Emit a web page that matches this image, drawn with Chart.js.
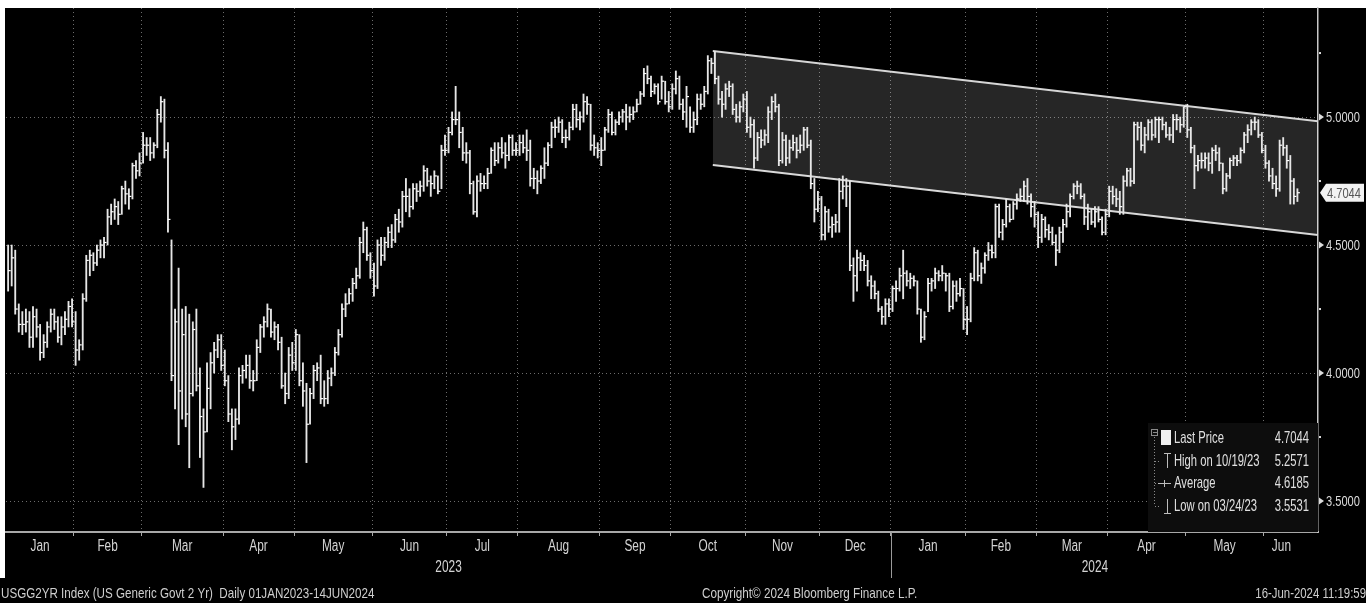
<!DOCTYPE html>
<html>
<head>
<meta charset="utf-8">
<script src="https://cdn.jsdelivr.net/npm/chart.js@4.4.1/dist/chart.umd.min.js"></script>
<style>
  html, body { margin: 0; padding: 0; background: #000; }
  #wrap { width: 1366px; height: 603px; }
</style>
</head>
<body>
<div id="wrap"><canvas id="chart" width="1366" height="603"></canvas></div>
<script>
// months on the axis and how many trading days each one holds
const monthNames = ["Jan", "Feb", "Mar", "Apr", "May", "Jun", "Jul", "Aug", "Sep", "Oct", "Nov", "Dec",
                    "Jan", "Feb", "Mar", "Apr", "May", "Jun"];
const monthDays = [19, 19, 23, 20, 22, 21, 20, 23, 20, 21, 21, 20, 21, 20, 20, 22, 22, 10];
const yearNames = ["2023", "2024"];
const yearMonths = [12, 6];

// daily bars, one line per month
const highs = [
  4.50,4.50,4.48,4.27,4.24,4.25,4.24,4.26,4.25,4.19,4.15,4.20,4.25,4.25,4.22,4.22,4.24,4.28,4.29,
  4.24,4.13,4.31,4.46,4.48,4.47,4.50,4.52,4.53,4.64,4.66,4.68,4.67,4.73,4.75,4.72,4.82,4.83,4.86,
  4.94,4.92,4.92,4.90,5.03,5.08,5.07,4.90,4.52,4.25,4.41,4.25,4.26,4.23,4.20,4.25,4.02,3.86,4.04,4.08,4.12,4.15,4.15,
  4.09,3.99,3.86,3.86,4.02,4.03,4.07,4.07,4.01,4.13,4.19,4.22,4.27,4.25,4.20,4.19,4.14,4.00,4.10,4.12,
  4.17,4.15,4.04,3.96,3.94,4.03,4.04,4.07,3.97,4.01,4.02,4.10,4.17,4.27,4.31,4.33,4.37,4.41,4.53,4.59,4.57,4.47,
  4.43,4.52,4.53,4.53,4.57,4.58,4.62,4.64,4.71,4.76,4.72,4.74,4.74,4.75,4.81,4.80,4.77,4.79,4.77,4.89,4.93,
  4.96,5.02,5.12,5.02,4.96,4.90,4.87,4.75,4.77,4.78,4.77,4.80,4.88,4.90,4.90,4.92,4.90,4.93,4.93,4.90,
  4.93,4.93,4.95,4.91,4.80,4.79,4.81,4.88,4.90,4.98,4.99,5.00,4.99,4.95,4.98,5.05,5.05,5.02,5.09,5.08,5.05,4.93,4.90,
  4.92,4.96,5.03,5.02,4.99,5.02,5.03,5.05,5.04,5.04,5.07,5.10,5.19,5.20,5.16,5.13,5.13,5.16,5.14,5.10,
  5.13,5.18,5.16,5.07,5.12,5.04,5.02,5.09,5.09,5.12,5.24,5.23,5.2571,5.16,5.10,5.13,5.14,5.13,5.05,5.06,5.09,
  5.10,5.00,4.99,4.94,4.95,4.95,5.04,5.08,5.09,5.05,4.94,4.93,4.91,4.93,4.92,4.93,4.96,4.96,4.91,4.76,4.71,
  4.69,4.65,4.64,4.61,4.62,4.76,4.77,4.76,4.75,4.45,4.48,4.47,4.46,4.44,4.38,4.36,4.32,4.26,4.29,4.29,
  4.34,4.36,4.41,4.48,4.40,4.39,4.38,4.36,4.25,4.24,4.37,4.37,4.41,4.40,4.42,4.39,4.39,4.36,4.36,4.37,4.33,
  4.26,4.39,4.49,4.48,4.43,4.47,4.51,4.50,4.66,4.66,4.60,4.68,4.66,4.67,4.70,4.72,4.75,4.76,4.70,4.67,
  4.63,4.62,4.61,4.58,4.57,4.54,4.57,4.60,4.66,4.70,4.74,4.75,4.74,4.70,4.66,4.64,4.65,4.65,4.61,4.64,
  4.73,4.73,4.72,4.71,4.77,4.80,4.80,4.98,4.98,4.98,4.96,4.99,4.99,5.00,5.00,5.00,4.98,4.96,5.01,5.01,5.00,5.04,
  5.05,4.96,4.89,4.85,4.86,4.86,4.86,4.88,4.89,4.88,4.82,4.78,4.84,4.85,4.85,4.88,4.94,4.97,4.99,5.00,4.99,4.94,
  4.89,4.83,4.80,4.77,4.91,4.92,4.89,4.85,4.76,4.72
];
const lows = [
  4.32,4.34,4.23,4.16,4.15,4.16,4.10,4.10,4.14,4.05,4.06,4.10,4.16,4.17,4.12,4.11,4.15,4.18,4.18,
  4.03,4.05,4.09,4.28,4.38,4.40,4.42,4.45,4.45,4.50,4.58,4.60,4.58,4.62,4.66,4.64,4.68,4.76,4.77,
  4.82,4.85,4.83,4.84,4.88,4.98,4.84,4.55,3.97,3.86,3.72,3.82,3.79,3.63,3.91,3.93,3.67,3.5531,3.77,3.86,4.00,4.06,4.01,
  3.95,3.81,3.70,3.74,3.80,3.96,3.98,3.94,3.93,3.97,4.08,4.14,4.18,4.14,4.13,4.09,3.94,3.88,3.90,4.01,
  4.01,3.95,3.87,3.65,3.80,3.90,3.97,3.88,3.87,3.88,3.95,3.99,4.07,4.14,4.22,4.27,4.28,4.33,4.37,4.47,4.44,4.37,
  4.30,4.33,4.42,4.44,4.49,4.49,4.51,4.55,4.57,4.63,4.61,4.64,4.67,4.69,4.71,4.73,4.69,4.72,4.70,4.72,4.85,
  4.86,4.93,4.97,4.88,4.83,4.82,4.70,4.62,4.61,4.71,4.72,4.72,4.78,4.81,4.82,4.84,4.80,4.83,4.85,4.85,
  4.85,4.86,4.83,4.73,4.72,4.70,4.74,4.76,4.81,4.88,4.92,4.94,4.90,4.88,4.91,4.95,4.96,4.95,4.98,5.01,4.87,4.85,4.84,
  4.81,4.87,4.94,4.93,4.93,4.97,4.98,4.95,4.98,4.99,5.02,5.05,5.08,5.13,5.08,5.09,5.05,5.07,5.05,5.02,
  5.03,5.09,5.03,4.99,4.96,4.94,4.94,4.97,5.03,5.04,5.09,5.17,5.13,5.05,5.00,5.03,5.08,5.01,4.98,4.98,5.02,
  4.94,4.92,4.80,4.83,4.88,4.89,4.90,4.99,5.02,4.81,4.82,4.81,4.82,4.87,4.84,4.86,4.87,4.88,4.72,4.59,4.63,
  4.52,4.52,4.55,4.53,4.55,4.55,4.68,4.65,4.40,4.28,4.32,4.40,4.40,4.34,4.29,4.29,4.24,4.19,4.19,4.22,
  4.24,4.28,4.32,4.29,4.34,4.33,4.34,4.23,4.12,4.13,4.24,4.32,4.33,4.36,4.36,4.32,4.24,4.25,4.28,4.30,4.17,
  4.15,4.20,4.36,4.36,4.35,4.39,4.44,4.45,4.45,4.53,4.52,4.57,4.59,4.60,4.64,4.67,4.67,4.66,4.61,4.57,
  4.49,4.51,4.53,4.52,4.50,4.42,4.47,4.51,4.57,4.61,4.68,4.70,4.68,4.58,4.56,4.58,4.57,4.59,4.54,4.54,
  4.61,4.66,4.65,4.62,4.62,4.73,4.73,4.74,4.91,4.87,4.86,4.91,4.91,4.92,4.90,4.95,4.92,4.91,4.90,4.95,4.94,4.96,
  4.92,4.86,4.72,4.79,4.80,4.80,4.79,4.78,4.83,4.79,4.70,4.71,4.76,4.81,4.81,4.82,4.86,4.90,4.93,4.95,4.92,4.86,
  4.80,4.75,4.72,4.69,4.71,4.85,4.80,4.66,4.66,4.67
];
const closes = [
  4.40,4.45,4.25,4.19,4.19,4.20,4.14,4.22,4.18,4.08,4.12,4.18,4.23,4.20,4.14,4.18,4.21,4.26,4.20,
  4.09,4.11,4.29,4.44,4.46,4.43,4.48,4.50,4.51,4.61,4.63,4.65,4.62,4.72,4.70,4.69,4.81,4.79,4.82,
  4.89,4.89,4.86,4.89,5.01,5.06,4.87,4.60,3.99,4.20,3.93,4.15,3.84,3.92,4.17,3.95,3.83,3.77,3.94,4.04,4.09,4.13,4.03,
  3.97,3.84,3.79,3.82,3.99,4.01,4.03,3.97,3.97,4.10,4.18,4.20,4.25,4.16,4.18,4.12,3.95,3.92,4.07,4.04,
  4.15,3.97,3.93,3.80,3.92,4.01,4.02,3.90,3.90,3.98,4.00,4.08,4.15,4.25,4.27,4.31,4.35,4.38,4.51,4.56,4.46,4.40,
  4.34,4.50,4.46,4.51,4.55,4.52,4.60,4.59,4.69,4.69,4.65,4.72,4.71,4.73,4.79,4.75,4.74,4.77,4.71,4.87,4.87,
  4.94,4.99,4.99,4.94,4.86,4.86,4.74,4.63,4.75,4.74,4.74,4.78,4.87,4.83,4.88,4.86,4.85,4.92,4.87,4.87,
  4.90,4.88,4.87,4.76,4.76,4.75,4.80,4.82,4.89,4.96,4.96,4.98,4.92,4.92,4.96,5.03,4.99,5.00,5.06,5.05,4.89,4.88,4.87,
  4.87,4.95,5.01,4.94,4.98,5.00,5.02,5.00,5.01,5.02,5.05,5.09,5.17,5.15,5.10,5.12,5.06,5.14,5.06,5.04,
  5.11,5.15,5.05,5.02,5.08,4.96,4.99,5.07,5.05,5.10,5.22,5.21,5.15,5.07,5.05,5.11,5.12,5.03,5.00,5.04,5.07,
  4.96,4.97,4.84,4.92,4.91,4.93,5.02,5.06,5.04,4.83,4.91,4.84,4.88,4.90,4.87,4.89,4.95,4.89,4.74,4.64,4.68,
  4.54,4.63,4.57,4.58,4.59,4.71,4.73,4.73,4.42,4.38,4.45,4.44,4.42,4.36,4.34,4.31,4.25,4.22,4.27,4.25,
  4.33,4.33,4.38,4.39,4.36,4.37,4.36,4.25,4.14,4.22,4.35,4.36,4.39,4.38,4.39,4.38,4.26,4.34,4.31,4.33,4.21,
  4.21,4.37,4.47,4.38,4.41,4.46,4.48,4.47,4.65,4.55,4.58,4.65,4.60,4.66,4.68,4.69,4.73,4.69,4.65,4.62,
  4.53,4.60,4.56,4.55,4.51,4.48,4.55,4.58,4.63,4.69,4.73,4.73,4.69,4.61,4.63,4.59,4.63,4.60,4.55,4.62,
  4.71,4.69,4.68,4.65,4.75,4.79,4.75,4.97,4.96,4.89,4.93,4.98,4.93,4.99,4.99,4.97,4.93,4.93,4.99,4.99,4.97,5.04,
  4.95,4.88,4.81,4.83,4.83,4.84,4.82,4.87,4.86,4.82,4.72,4.77,4.83,4.84,4.83,4.87,4.93,4.95,4.98,4.98,4.93,4.87,
  4.82,4.77,4.74,4.72,4.89,4.88,4.83,4.75,4.69,4.7044
];

// trend channel drawn from the 10/19/23 high to the right edge
const channelX = [198.4, 368.8];
const channelTop = [5.258, 4.984];
const channelBottom = [4.8125, 4.539];

const yTicks = [3.5, 4.0, 4.5, 5.0];
const yMinorTicks = [3.75, 4.25, 4.75, 5.25];
const lastPrice = 4.7044;
const legendLabels = ["Last Price", "High on 10/19/23", "Average", "Low on 03/24/23"];
const legendValues = ["4.7044", "5.2571", "4.6185", "3.5531"];
const footerLeft = "USGG2YR Index (US Generic Govt 2 Yr)  Daily 01JAN2023-14JUN2024";
const footerMid = "Copyright\u00A9 2024 Bloomberg Finance L.P.";
const footerRight = "16-Jun-2024 11:19:59";

const FONT = '"Liberation Sans", Arial, sans-serif';
const xMin = -0.6, xMax = 368.8;

const monthStart = [];
let acc = 0;
monthDays.forEach(d => { monthStart.push(acc); acc += d; });

// narrow text: Bloomberg uses a tall condensed face, so squeeze a normal one
function narrowText(ctx, s, x, y, size, align, color, squeeze) {
  ctx.save();
  ctx.font = size + "px " + FONT;
  ctx.fillStyle = color;
  ctx.textBaseline = "middle";
  ctx.textAlign = align;
  ctx.translate(x, y);
  ctx.scale(squeeze || 0.74, 1);
  ctx.fillText(s, 0, 0);
  ctx.restore();
}

const decor = {
  id: "decor",
  beforeDraw(chart) {
    const { ctx, width, height } = chart;
    ctx.save();
    ctx.fillStyle = "#000";
    ctx.fillRect(0, 0, width, height);
    ctx.fillStyle = "#fff";
    ctx.fillRect(0, 0, width, 8);
    ctx.fillRect(0, 0, 5, 578);
    ctx.restore();
  },
  afterDraw(chart) {
    const { ctx, chartArea: ca } = chart;
    const x = chart.scales.x, y = chart.scales.y;
    ctx.save();

    // month labels under the axis
    monthStart.forEach((s, i) => {
      const a = Math.max(s - 0.5, x.min);
      const b = Math.min(s + monthDays[i] - 0.5, x.max);
      narrowText(ctx, monthNames[i], x.getPixelForValue((a + b) / 2), 547, 16, "center", "#d4d4d4");
    });

    // year labels, centred on each year's bars
    let m = 0;
    yearNames.forEach((yr, i) => {
      const first = monthStart[m];
      const lastM = m + yearMonths[i] - 1;
      const last = monthStart[lastM] + monthDays[lastM] - 1;
      narrowText(ctx, yr, x.getPixelForValue((first + last) / 2), 568, 16, "center", "#d4d4d4");
      if (i > 0) {
        const px = Math.round(x.getPixelForValue(first - 0.5)) + 0.5;
        ctx.strokeStyle = "#9a9a9a";
        ctx.lineWidth = 1;
        ctx.beginPath();
        ctx.moveTo(px, ca.bottom);
        ctx.lineTo(px, 578);
        ctx.stroke();
      }
      m += yearMonths[i];
    });

    // right axis: arrow markers, labels, minor dots
    yTicks.forEach(v => {
      const py = y.getPixelForValue(v);
      ctx.fillStyle = "#dcdcdc";
      ctx.beginPath();
      ctx.moveTo(ca.right + 1, py - 3.5);
      ctx.lineTo(ca.right + 6, py);
      ctx.lineTo(ca.right + 1, py + 3.5);
      ctx.fill();
      narrowText(ctx, v.toFixed(4), ca.right + 8, py + 1, 15, "left", "#dcdcdc");
    });
    ctx.fillStyle = "#dcdcdc";
    yMinorTicks.forEach(v => {
      const py = y.getPixelForValue(v);
      ctx.fillRect(ca.right + 1, py - 1, 2, 2);
    });

    // last price tag
    const ly = y.getPixelForValue(lastPrice);
    ctx.fillStyle = "#f2f2f2";
    ctx.beginPath();
    ctx.moveTo(ca.right + 2, ly);
    ctx.lineTo(ca.right + 8, ly - 9);
    ctx.lineTo(1364, ly - 9);
    ctx.lineTo(1364, ly + 9);
    ctx.lineTo(ca.right + 8, ly + 9);
    ctx.closePath();
    ctx.fill();
    narrowText(ctx, lastPrice.toFixed(4), ca.right + 9, ly + 1, 15, "left", "#555");

    // legend box
    const bx = 1148, by = 423, bw = ca.right - 1148, bh = ca.bottom - 423;
    ctx.fillStyle = "#0d0d0d";
    ctx.fillRect(bx, by, bw, bh);
    const rows = [438, 461, 483, 506];
    ctx.strokeStyle = "#8a8a8a";
    ctx.lineWidth = 1;
    ctx.strokeRect(1151.5, 429.5, 6, 6);
    ctx.beginPath();
    ctx.moveTo(1153, 432.5); ctx.lineTo(1157, 432.5);
    ctx.stroke();
    ctx.setLineDash([1, 2]);
    ctx.beginPath();
    ctx.moveTo(1154.5, 437); ctx.lineTo(1154.5, rows[3]);
    rows.slice(1).forEach(r => { ctx.moveTo(1155, r + 0.5); ctx.lineTo(1161, r + 0.5); });
    ctx.stroke();
    ctx.setLineDash([]);
    ctx.fillStyle = "#f0f0f0";
    ctx.fillRect(1161, 430, 10, 15);
    ctx.strokeStyle = "#bdbdbd";
    ctx.beginPath();
    ctx.moveTo(1164, rows[1] - 7.5); ctx.lineTo(1171, rows[1] - 7.5);
    ctx.moveTo(1167.5, rows[1] - 7); ctx.lineTo(1167.5, rows[1] + 7);
    ctx.moveTo(1158, rows[2] + 0.5); ctx.lineTo(1171, rows[2] + 0.5);
    ctx.moveTo(1164.5, rows[2] - 3); ctx.lineTo(1164.5, rows[2] + 4);
    ctx.moveTo(1167.5, rows[3] - 7); ctx.lineTo(1167.5, rows[3] + 7);
    ctx.moveTo(1164, rows[3] + 7.5); ctx.lineTo(1171, rows[3] + 7.5);
    ctx.stroke();
    legendLabels.forEach((t, i) => {
      narrowText(ctx, t, 1174, rows[i], 17, "left", "#e0e0e0", 0.66);
      narrowText(ctx, legendValues[i], 1309, rows[i], 17, "right", "#e0e0e0", 0.66);
    });

    // footer
    narrowText(ctx, footerLeft, 1, 594, 15, "left", "#cfcfcf", 0.775);
    narrowText(ctx, footerMid, 702, 594, 15, "left", "#cfcfcf", 0.78);
    narrowText(ctx, footerRight, 1366, 594, 15, "right", "#cfcfcf", 0.76);
    ctx.restore();
  }
};

new Chart(document.getElementById("chart"), {
  type: "bar",
  data: {
    datasets: [
      {
        type: "line", order: 3,
        data: channelX.map((v, i) => ({ x: v, y: channelTop[i] })),
        borderColor: "#d6d6d6", borderWidth: 2, pointRadius: 0,
        fill: "+1", backgroundColor: "rgba(255,255,255,0.15)"
      },
      {
        type: "line", order: 3,
        data: channelX.map((v, i) => ({ x: v, y: channelBottom[i] })),
        borderColor: "#d6d6d6", borderWidth: 2, pointRadius: 0, fill: false
      },
      {
        type: "bar", order: 2,
        data: highs.map((h, i) => ({ x: i, y: [lows[i], h] })),
        backgroundColor: "#e6e6e6", barThickness: 1.2
      },
      {
        type: "line", order: 1, showLine: false,
        data: closes.map((c, i) => ({ x: i, y: c })),
        pointStyle: "dash", pointRadius: 2.5, pointBorderWidth: 1.2,
        pointBorderColor: "#ffffff", pointBackgroundColor: "#ffffff"
      }
    ]
  },
  options: {
    responsive: false,
    animation: false,
    events: [],
    layout: { padding: { left: 6, top: 8, right: 0, bottom: 0 } },
    plugins: { legend: { display: false }, tooltip: { enabled: false } },
    scales: {
      x: {
        type: "linear", position: "bottom", min: xMin, max: xMax, offset: false,
        afterBuildTicks: s => { s.ticks = monthStart.slice(1).map(v => ({ value: v - 0.5 })); },
        afterFit: s => { s.height = 71; },
        ticks: { display: false },
        grid: { offset: false, color: "#6c6c6c", lineWidth: 1, drawTicks: true, tickLength: 4, tickColor: "#a8a8a8" },
        border: { display: true, color: "#a8a8a8", width: 2, dash: [1, 3] }
      },
      y: {
        type: "linear", position: "right", min: 3.379, max: 5.426,
        afterBuildTicks: s => { s.ticks = yTicks.map(v => ({ value: v })); },
        afterFit: s => { s.width = 48; },
        ticks: { display: false },
        grid: { color: "#6c6c6c", drawTicks: false },
        border: { display: true, color: "#c8c8c8", width: 1.5, dash: [1, 3] }
      }
    }
  },
  plugins: [decor]
});
</script>
</body>
</html>
